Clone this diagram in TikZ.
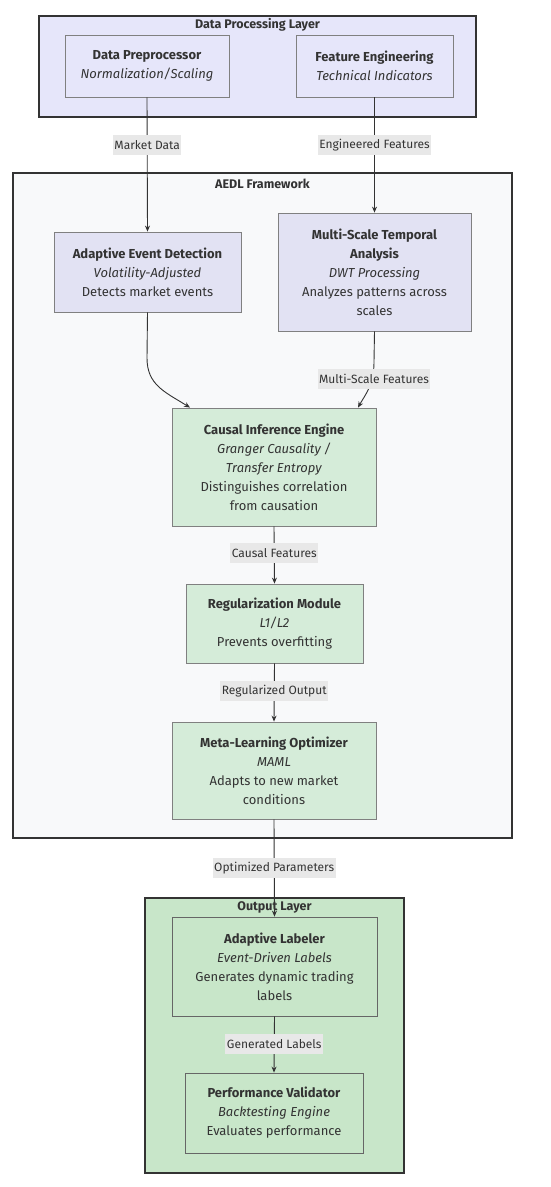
\documentclass[tikz,border=0pt]{standalone}
\usepackage{fontspec}
\setmainfont{Fira Sans}
\usetikzlibrary{arrows.meta,calc}
\definecolor{lav}{HTML}{E6E6FA}
\definecolor{lavnode}{HTML}{E2E2F3}
\definecolor{aedlbg}{HTML}{F8F9FA}
\definecolor{grn}{HTML}{D5ECD9}
\definecolor{outbg}{HTML}{C8E6C9}
\definecolor{lbl}{HTML}{E8E8E8}
\definecolor{ink}{HTML}{333333}
\tikzset{
  x=1pt,y=1pt,
  every node/.style={font=\fontsize{13}{19}\selectfont, text=ink},
  cluster/.style={draw=ink, line width=1.4pt},
  nbox/.style={draw=black!50, line width=0.8pt, align=center, inner sep=0pt},
  arr/.style={draw=ink, line width=0.9pt, -{Stealth[length=6pt,width=5pt]}},
  elabel/.style={fill=lbl, inner xsep=1.5pt, inner ysep=0pt, minimum height=20pt, font=\fontsize{12}{14}\selectfont},
  ctitle/.style={font=\fontsize{12.5}{14}\selectfont\bfseries},
}
\begin{document}
\begin{tikzpicture}
\useasboundingbox (0,0) rectangle (550,-1187);
\fill[white] (0,0) rectangle (550,-1187);
% clusters
\draw[cluster, fill=lav] (39,-16) rectangle (476,-117);
\node[ctitle] (t1) at (257.5,-25) {Data Processing Layer};
\draw[cluster, fill=aedlbg] (13,-173) rectangle (512,-838);
\node[ctitle] (t2) at (262.5,-184) {AEDL Framework};
\draw[cluster, fill=outbg] (145,-898) rectangle (404,-1173);
\node[ctitle] (t3) at (274.5,-907) {Output Layer};
% nodes
\node[nbox, fill=lav, minimum width=164pt, minimum height=62pt] (pre) at (147,-66) {\textbf{Data Preprocessor}\\\textit{Normalization/Scaling}};
\node[nbox, fill=lav, minimum width=157pt, minimum height=62pt] (fe) at (374.5,-66) {\textbf{Feature Engineering}\\\textit{Technical Indicators}};
\node[nbox, fill=lavnode, minimum width=187pt, minimum height=80pt] (aed) at (147.5,-272) {\textbf{Adaptive Event Detection}\\\textit{Volatility-Adjusted}\\Detects market events};
\node[nbox, fill=lavnode, minimum width=193pt, minimum height=118pt] (msta) at (374.5,-272) {\textbf{Multi-Scale Temporal}\\\textbf{Analysis}\\\textit{DWT Processing}\\Analyzes patterns across\\scales};
\node[nbox, fill=grn, minimum width=204pt, minimum height=118pt] (cie) at (274,-467) {\textbf{Causal Inference Engine}\\\textit{Granger Causality /}\\\textit{Transfer Entropy}\\Distinguishes correlation\\from causation};
\node[nbox, fill=grn, minimum width=177pt, minimum height=79pt] (reg) at (274.5,-623.5) {\textbf{Regularization Module}\\\textit{L1/L2}\\Prevents overfitting};
\node[nbox, fill=grn, minimum width=204pt, minimum height=97pt] (meta) at (274,-770.5) {\textbf{Meta-Learning Optimizer}\\\textit{MAML}\\Adapts to new market\\conditions};
\node[nbox, draw=black!60, fill=outbg, minimum width=205pt, minimum height=99pt] (lab) at (274.5,-966.5) {\textbf{Adaptive Labeler}\\\textit{Event-Driven Labels}\\Generates dynamic trading\\labels};
\node[nbox, draw=black!60, fill=outbg, minimum width=178pt, minimum height=80pt] (perf) at (274,-1113) {\textbf{Performance Validator}\\\textit{Backtesting Engine}\\Evaluates performance};
% edges
\draw[arr] (pre.south) -- node[elabel, pos=0.356] (l1) {Market Data} (aed.north);
\draw[arr] (fe.south) -- node[elabel, pos=0.414] (l2) {Engineered Features} (msta.north);
\coordinate (aedbend) at (147,-358);
\coordinate (mstabend) at (374,-362);
\draw[arr] (aed.south) -- (aedbend) .. controls (147,-385) and (165,-392) .. ([xshift=-84pt]cie.north);
\draw[arr] (msta.south) -- (mstabend) .. controls (374,-385) and (365,-395) .. ([xshift=84pt]cie.north);
\node[elabel] (l3) at (374,-379) {Multi-Scale Features};
\draw[arr] (cie.south) -- node[elabel, pos=0.466] (l4) {Causal Features} (reg.north);
\draw[arr] (reg.south) -- node[elabel, pos=0.475] (l5) {Regularized Output} (meta.north);
\draw[arr] (meta.south) -- node[elabel, pos=0.5] (l6) {Optimized Parameters} (lab.north);
\draw[arr] (lab.south) -- node[elabel, pos=0.49] (l7) {Generated Labels} (perf.north);
\end{tikzpicture}
\end{document}
